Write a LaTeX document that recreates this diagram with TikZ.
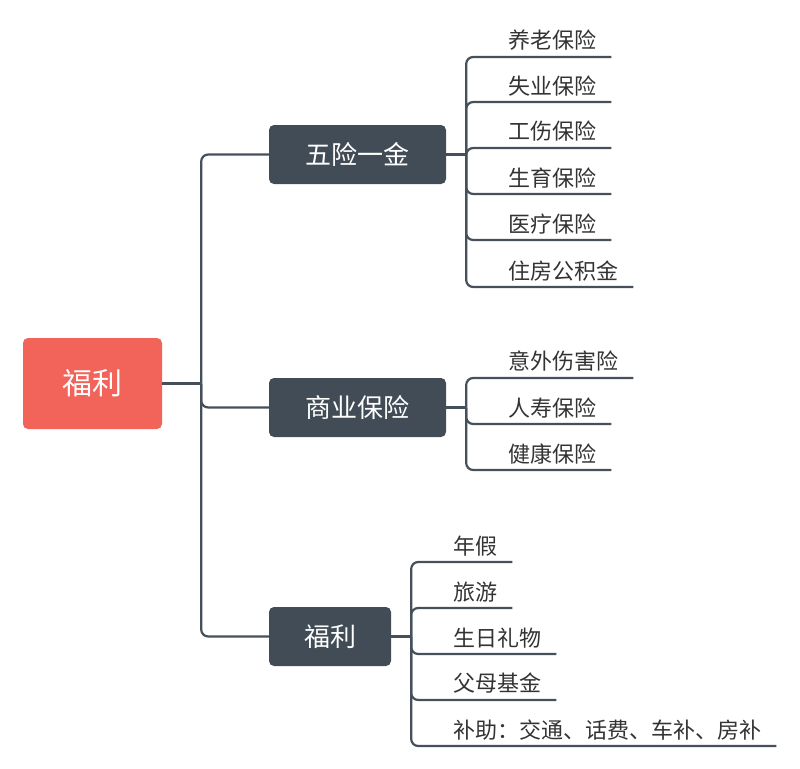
\documentclass[tikz,border=0pt]{standalone}
\usepackage{fontspec}
\usepackage{tikz}
\newfontfamily\cjk{Noto Sans CJK SC}
\definecolor{rootred}{HTML}{F2635A}
\definecolor{boxgrey}{HTML}{414C56}
\definecolor{linegrey}{HTML}{45505A}
\tikzstyle{rootbox}=  [fill=rootred, rounded corners=5pt, text=white, minimum width=139pt, minimum height=91pt, font=\cjk\fontsize{30}{30}\selectfont]
\tikzstyle{topicbox}= [fill=boxgrey, rounded corners=5pt, text=white, minimum height=59pt, font=\cjk\fontsize{26}{26}\selectfont]
\tikzstyle{leaf}=     [anchor=south west, inner xsep=0pt, inner ysep=6pt, text=black!80, font=\cjk\fontsize{22}{22}\selectfont]
\tikzstyle{branch}=   [draw=linegrey, line width=2.2pt, rounded corners=7pt]

\begin{document}
\begin{tikzpicture}[x=1pt,y=-1pt]
 \useasboundingbox (0,0) rectangle (800,768);

 % root and topics
 \node[rootbox] (root) at (92.5,383.5) {福利};
 \node[topicbox, minimum width=177pt] (wx) at (357.5,154.5) {五险一金};
 \node[topicbox, minimum width=177pt] (sy) at (357.5,407.5) {商业保险};
 \node[topicbox, minimum width=122pt] (fl) at (330,636.5) {福利};

 \coordinate (t) at ([xshift=39pt]root.east);
 \draw[branch, line width=3pt] (root.east) -- (t);
 \foreach \n in {wx,sy,fl}
  \draw[branch] (t) |- (\n.west);

 \coordinate (jwx) at ([xshift=20pt]wx.east);
 \coordinate (jsy) at ([xshift=20pt]sy.east);
 \coordinate (jfl) at ([xshift=20pt]fl.east);
 \foreach \n in {wx,sy,fl}
  \draw[branch] (\n.east) -- (j\n);

 % leaves
 \foreach \y/\t [count=\i] in {57/养老保险, 102/失业保险, 148/工伤保险, 194/生育保险, 240/医疗保险, 287/住房公积金}
 {
  \node[leaf] (wx\i) at (508,\y) {\t};
  \draw[branch] (jwx) |- ([xshift=15pt]wx\i.south east);
 }
 \foreach \y/\t [count=\i] in {378/意外伤害险, 424/人寿保险, 470/健康保险}
 {
  \node[leaf] (sy\i) at (508,\y) {\t};
  \draw[branch] (jsy) |- ([xshift=15pt]sy\i.south east);
 }
 \foreach \y/\t [count=\i] in {562/年假, 608/旅游, 654/生日礼物, 700/父母基金, 746/{补助：交通、话费、车补、房补}}
 {
  \node[leaf] (fl\i) at (453,\y) {\t};
  \draw[branch] (jfl) |- ([xshift=15pt]fl\i.south east);
 }
\end{tikzpicture}
\end{document}
